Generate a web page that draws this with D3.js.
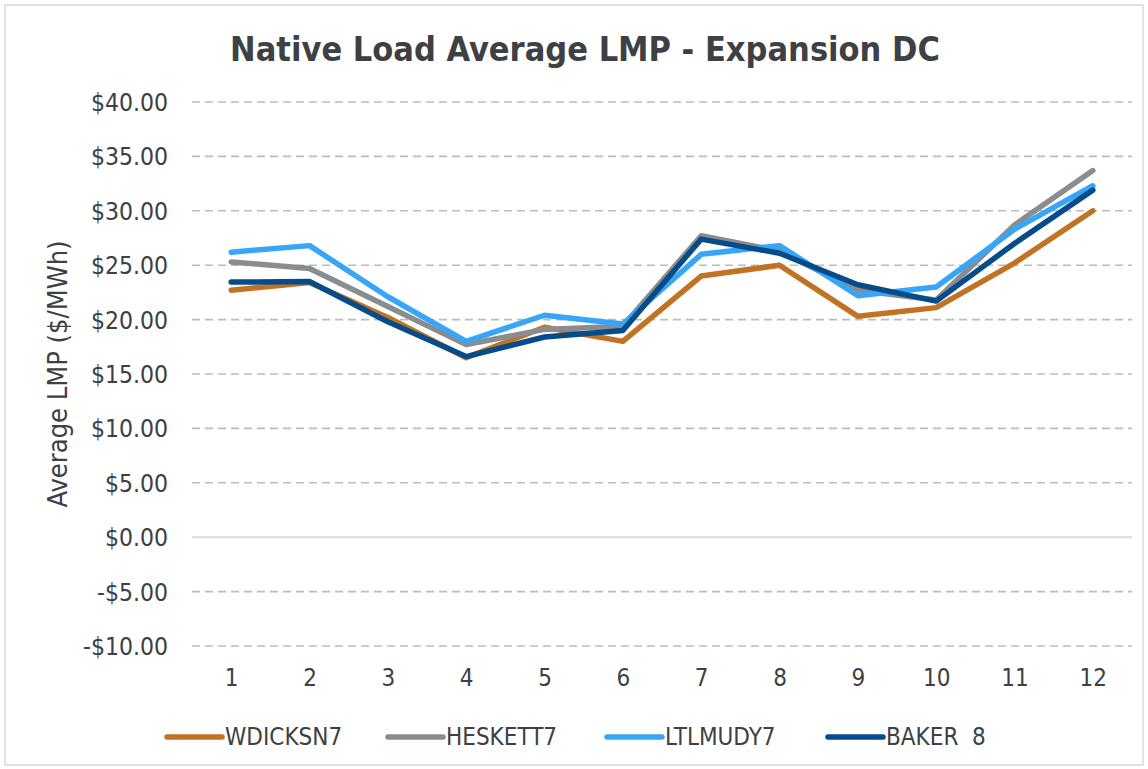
<!DOCTYPE html>
<html>
<head>
<meta charset="utf-8">
<script src="https://cdn.jsdelivr.net/npm/d3@7/dist/d3.min.js"></script>
<style>
  html, body { margin: 0; padding: 0; background: #fff; }
  svg { display: block; }
  text { font-family: "DejaVu Sans", sans-serif; font-stretch: condensed; fill: #3d4044; }
</style>
</head>
<body>
<svg id="chart" width="1148" height="769"></svg>
<script>
const months = [1, 2, 3, 4, 5, 6, 7, 8, 9, 10, 11, 12];
const seriesNames = ["WDICKSN7", "HESKETT7", "LTLMUDY7", "BAKER  8"];
const seriesColors = ["#BF7323", "#8A8D90", "#38A6F8", "#064C8A"];
const wdicksn7 = [22.7, 23.4, 20.2, 16.5, 19.3, 18.0, 24.0, 25.0, 20.3, 21.1, 25.2, 30.0];
const heskett7 = [25.3, 24.7, 21.2, 17.7, 19.1, 19.4, 27.7, 26.3, 22.7, 21.8, 28.7, 33.7];
const ltlmudy7 = [26.2, 26.8, 22.1, 18.0, 20.4, 19.6, 26.0, 26.8, 22.2, 23.0, 28.3, 32.3];
const baker8   = [23.45, 23.5, 19.8, 16.6, 18.4, 19.0, 27.4, 26.1, 23.2, 21.7, 27.0, 31.9];
const yTicks = [-10, -5, 0, 5, 10, 15, 20, 25, 30, 35, 40];

const allSeries = [wdicksn7, heskett7, ltlmudy7, baker8];

const svg = d3.select("#chart");

// outer border
svg.append("rect").attr("x", 5).attr("y", 5).attr("width", 1138).attr("height", 760)
  .attr("fill", "#fff").attr("stroke", "#d9d9d9").attr("stroke-width", 1.5);

const x = d3.scalePoint().domain(months).range([192, 1132]).padding(0.5);
const y = d3.scaleLinear().domain([-10, 40]).range([646, 102]);

// grid lines
const grid = svg.append("g");
grid.selectAll("line").data(yTicks).join("line")
  .attr("x1", 192).attr("x2", 1132)
  .attr("y1", d => y(d)).attr("y2", d => y(d))
  .attr("stroke", d => d === 0 ? "#d9d9d9" : "#bcbcbc")
  .attr("stroke-width", d => d === 0 ? 2 : 1.6)
  .attr("stroke-dasharray", d => d === 0 ? null : "8,5");

// y axis
const fmt = v => (v < 0 ? "-$" : "$") + Math.abs(v).toFixed(2);
const yAxis = d3.axisLeft(y).tickValues(yTicks).tickFormat(fmt).tickSize(0).tickPadding(0);
const yg = svg.append("g").attr("transform", "translate(168,0)").call(yAxis);
yg.select(".domain").remove();
yg.selectAll("text").style("font-size", "24.5px").attr("dy", "0.35em").attr("fill", "#3d4044");

// x axis
const xAxis = d3.axisBottom(x).tickSize(0).tickPadding(0);
const xg = svg.append("g").attr("transform", "translate(0,669)").call(xAxis);
xg.select(".domain").remove();
xg.selectAll("text").style("font-size", "24px").attr("dy", "0.71em").attr("fill", "#3d4044");

// lines
const line = d3.line().x((d, i) => x(months[i])).y(d => y(d));
svg.append("g").selectAll("path").data(allSeries).join("path")
  .attr("d", d => line(d))
  .attr("fill", "none")
  .attr("stroke", (d, i) => seriesColors[i])
  .attr("stroke-width", 5.5)
  .attr("stroke-linejoin", "round")
  .attr("stroke-linecap", "round");

// title
svg.append("text").attr("x", 585).attr("y", 61).attr("text-anchor", "middle")
  .style("font-size", "34px").style("font-weight", "bold").text("Native Load Average LMP - Expansion DC");

// y axis title
svg.append("text").attr("transform", "translate(67,374) rotate(-90)").attr("text-anchor", "middle")
  .style("font-size", "27px").text("Average LMP ($/MWh)");

// legend
const legendX = [167, 388, 607, 828];
const lg = svg.append("g").selectAll("g").data(seriesNames).join("g")
  .attr("transform", (d, i) => `translate(${legendX[i]},737)`);
lg.append("line").attr("x1", 0).attr("x2", 55).attr("y1", 0).attr("y2", 0)
  .attr("stroke", (d, i) => seriesColors[i]).attr("stroke-width", 5.5).attr("stroke-linecap", "round");
lg.append("text").attr("x", 58).attr("y", 0).attr("dy", "0.35em")
  .style("font-size", "24px").style("white-space", "pre").attr("xml:space", "preserve").text(d => d);
</script>
</body>
</html>
